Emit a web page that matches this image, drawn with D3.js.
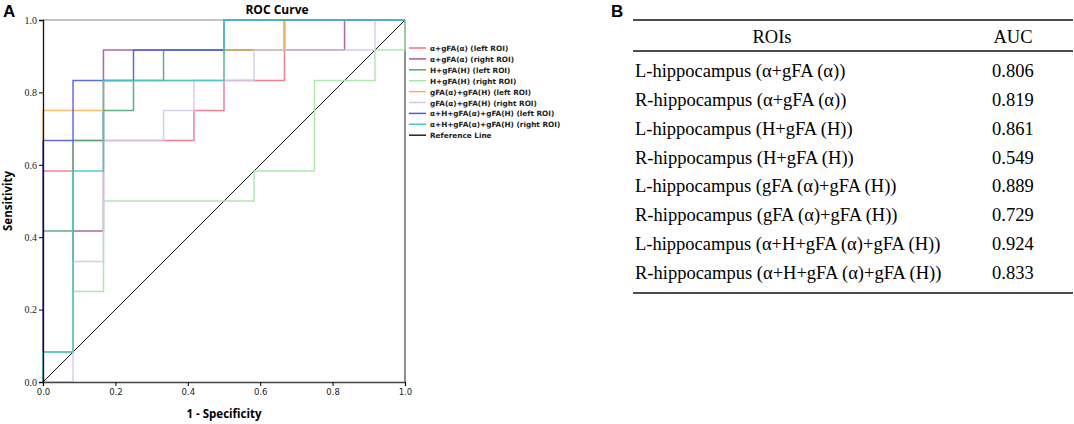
<!DOCTYPE html>
<html>
<head>
<meta charset="utf-8">
<script src="https://cdn.jsdelivr.net/npm/d3@7"></script>
<style>
  body { margin: 0; background: #fff; }
  svg { display: block; }
</style>
</head>
<body>
<svg id="chart"></svg>
<script>
// ROC curves (panel A): points as (1 - specificity, sensitivity)
const seriesNames = [
  "α+gFA(α) (left ROI)",
  "α+gFA(α) (right ROI)",
  "H+gFA(H) (left ROI)",
  "H+gFA(H) (right ROI)",
  "gFA(α)+gFA(H) (left ROI)",
  "gFA(α)+gFA(H) (right ROI)",
  "α+H+gFA(α)+gFA(H) (left ROI)",
  "α+H+gFA(α)+gFA(H) (right ROI)"
];
const seriesColors = ["#f4708c", "#a05aa0", "#4fa77a", "#a6e6a6", "#f7b35c", "#d6c6e6", "#4c5ce6", "#44c6c6"];

const fprA = [
  [0, 0, 0.083, 0.417, 0.5, 0.667, 1],
  [0, 0, 0.083, 0.167, 0.833, 1],
  [0, 0, 0.083, 0.167, 0.25, 0.333, 0.667, 1],
  [0, 0, 0.083, 0.167, 0.583, 0.75, 0.917, 1],
  [0, 0, 0.167, 0.5, 0.667, 1],
  [0, 0.083, 0.167, 0.333, 0.417, 0.583, 0.917, 1],
  [0, 0, 0.083, 0.25, 0.5, 1],
  [0, 0, 0.083, 0.167, 0.5, 1]
];
const tprA = [
  [0, 0.583, 0.667, 0.75, 0.833, 1, 1],
  [0, 0.083, 0.417, 0.917, 1, 1],
  [0, 0.417, 0.667, 0.75, 0.833, 0.917, 1, 1],
  [0, 0.083, 0.25, 0.5, 0.583, 0.833, 0.917, 1],
  [0, 0.75, 0.833, 0.917, 1, 1],
  [0, 0.333, 0.667, 0.75, 0.833, 0.917, 1, 1],
  [0, 0.667, 0.833, 0.917, 1, 1],
  [0, 0.083, 0.583, 0.833, 1, 1]
];
const axisTicks = [0, 0.2, 0.4, 0.6, 0.8, 1.0];

// table (panel B)
const roiLabels = [
  "L-hippocampus (α+gFA (α))",
  "R-hippocampus (α+gFA (α))",
  "L-hippocampus (H+gFA (H))",
  "R-hippocampus (H+gFA (H))",
  "L-hippocampus (gFA (α)+gFA (H))",
  "R-hippocampus (gFA (α)+gFA (H))",
  "L-hippocampus (α+H+gFA (α)+gFA (H))",
  "R-hippocampus (α+H+gFA (α)+gFA (H))"
];
const aucValues = ["0.806", "0.819", "0.861", "0.549", "0.889", "0.729", "0.924", "0.833"];

const width = 1074, height = 424;
const svg = d3.select("#chart").attr("width", width).attr("height", height);

const plot = { left: 43, right: 405, top: 20, bottom: 382 };
const x = d3.scaleLinear().domain([0, 1]).range([plot.left, plot.right]);
const y = d3.scaleLinear().domain([0, 1]).range([plot.bottom, plot.top]);

const sans = "'DejaVu Sans', Verdana, sans-serif";
const serif = "'Liberation Serif', 'Times New Roman', serif";

// panel letters
svg.append("text").attr("x", 3).attr("y", 17).text("A")
  .style("font-family", "'Liberation Sans', Arial, sans-serif").style("font-weight", "bold").style("font-size", "17px");
svg.append("text").attr("x", 611).attr("y", 17).text("B")
  .style("font-family", "'Liberation Sans', Arial, sans-serif").style("font-weight", "bold").style("font-size", "17px");

svg.append("text").attr("x", 277).attr("y", 14).attr("text-anchor", "middle").text("ROC Curve")
  .style("font-family", "'Open Sans', sans-serif").style("font-weight", "bold").style("font-size", "12px");

// frame: top grey, right dark
svg.append("line").attr("x1", x(0)).attr("x2", x(1)).attr("y1", y(1)).attr("y2", y(1))
  .attr("stroke", "#888").attr("stroke-width", 1.2);
svg.append("line").attr("x1", x(1)).attr("x2", x(1)).attr("y1", y(1)).attr("y2", y(0))
  .attr("stroke", "#444").attr("stroke-width", 1.2);

// reference diagonal
svg.append("line").attr("x1", x(0)).attr("y1", y(0)).attr("x2", x(1)).attr("y2", y(1))
  .attr("stroke", "#111").attr("stroke-width", 1);

const line = d3.line().x(d => x(d[0])).y(d => y(d[1])).curve(d3.curveStepAfter);

seriesNames.forEach((name, i) => {
  const pts = fprA[i].map((f, j) => [f, tprA[i][j]]);
  svg.append("path").datum(pts)
    .attr("d", line)
    .attr("fill", "none")
    .attr("stroke", seriesColors[i])
    .attr("stroke-width", 1.5)
    .attr("stroke-opacity", 0.9);
});

// axes
const xAxis = svg.append("g").attr("transform", `translate(0,${plot.bottom})`)
  .call(d3.axisBottom(x).tickValues(axisTicks).tickFormat(d3.format(".1f")).tickSize(4).tickPadding(3));
const yAxis = svg.append("g").attr("transform", `translate(${plot.left},0)`)
  .call(d3.axisLeft(y).tickValues(axisTicks).tickFormat(d3.format(".1f")).tickSize(4).tickPadding(2));
xAxis.select(".domain").attr("stroke", "#444").attr("stroke-width", 1.3);
yAxis.select(".domain").attr("stroke", "#111").attr("stroke-width", 1.3);
xAxis.selectAll("text").style("font-family", sans).style("font-size", "8.5px").attr("fill", "#222");
yAxis.selectAll("text").style("font-family", serif).style("font-size", "10px").attr("fill", "#222");

svg.append("text").attr("x", 224).attr("y", 418).attr("text-anchor", "middle").text("1 - Specificity")
  .style("font-family", "'Open Sans', sans-serif").style("font-weight", "bold").style("font-size", "11.5px");
svg.append("text").attr("transform", "translate(12,201) rotate(-90)").attr("text-anchor", "middle").text("Sensitivity")
  .style("font-family", "'Open Sans', sans-serif").style("font-weight", "bold").style("font-size", "11.5px");

// legend
const legendNames = seriesNames.concat(["Reference Line"]);
const legendColors = seriesColors.concat(["#222"]);
const legend = svg.append("g");
legendNames.forEach((name, i) => {
  const ly = 48 + i * 10.9;
  legend.append("line").attr("x1", 409).attr("x2", 426).attr("y1", ly).attr("y2", ly)
    .attr("stroke", legendColors[i]).attr("stroke-width", 1.5);
  legend.append("text").attr("x", 430).attr("y", ly + 3).text(name)
    .style("font-family", sans).style("font-weight", "bold").style("font-size", "7.3px").attr("fill", "#222");
});

// table
const tbl = { left: 633, right: 1073, top: 20, head: 51, bottom: 293 };
const rowY = d3.scaleBand().domain(d3.range(roiLabels.length)).range([tbl.head + 6, tbl.bottom - 6]);
[tbl.top, tbl.head, tbl.bottom].forEach(ly => {
  svg.append("line").attr("x1", tbl.left).attr("x2", tbl.right).attr("y1", ly).attr("y2", ly)
    .attr("stroke", "#111").attr("stroke-width", 1.3);
});
svg.append("text").attr("x", 772).attr("y", 43).attr("text-anchor", "middle").text("ROIs")
  .style("font-family", serif).style("font-size", "18.5px");
svg.append("text").attr("x", 1013).attr("y", 43).attr("text-anchor", "middle").text("AUC")
  .style("font-family", serif).style("font-size", "18.5px");
roiLabels.forEach((lab, i) => {
  const cy = rowY(i) + rowY.bandwidth() / 2 + 6;
  svg.append("text").attr("x", 635).attr("y", cy).text(lab)
    .style("font-family", serif).style("font-size", "18.5px");
  svg.append("text").attr("x", 992).attr("y", cy).text(aucValues[i])
    .style("font-family", serif).style("font-size", "18.5px");
});
</script>
</body>
</html>
